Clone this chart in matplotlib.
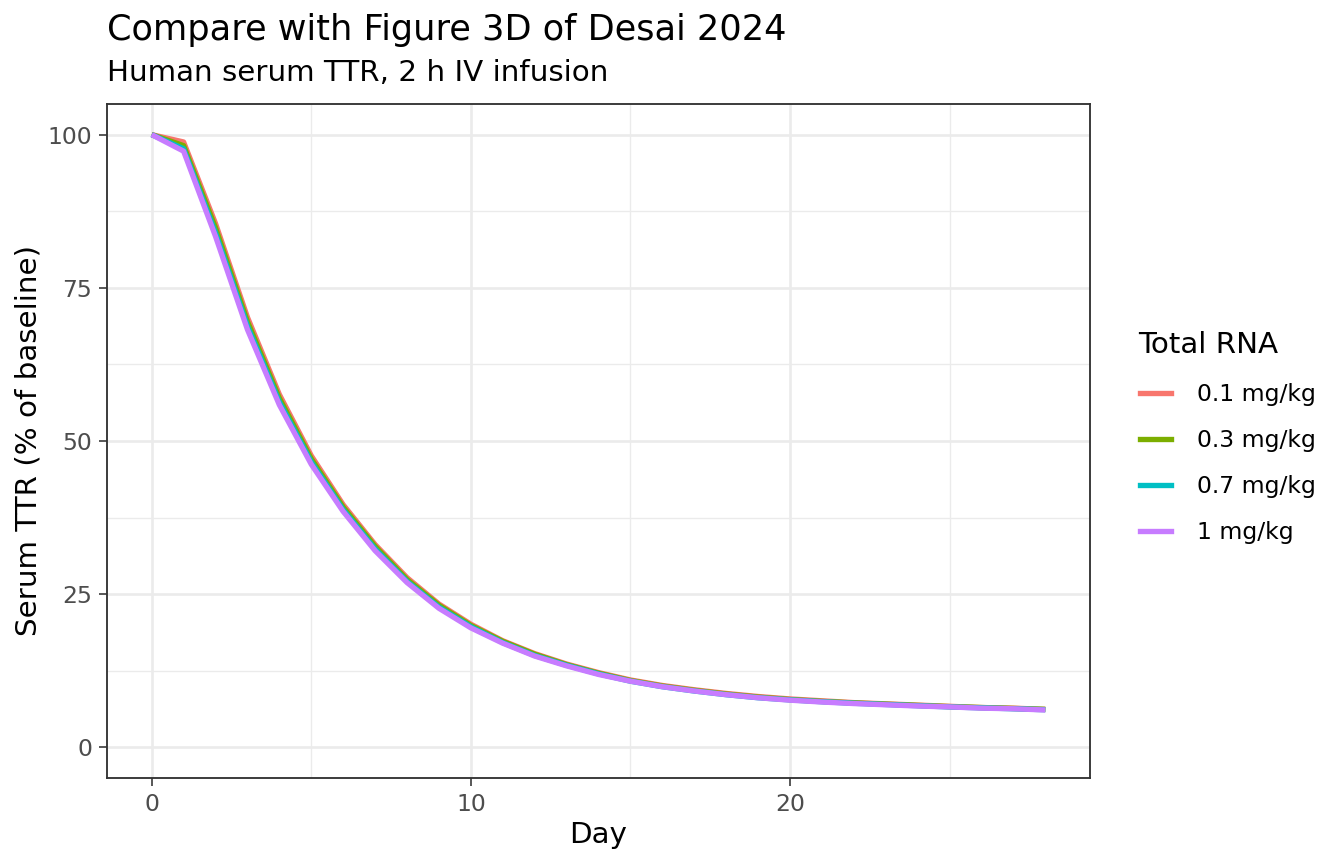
import matplotlib
matplotlib.use("Agg")
import matplotlib.pyplot as plt
from matplotlib.ticker import MultipleLocator
from matplotlib.lines import Line2D

days = list(range(0, 29))
doses = ["0.1 mg/kg", "0.3 mg/kg", "0.7 mg/kg", "1 mg/kg"]
colors = ["#F8766D", "#7CAE00", "#00BFC4", "#C77CFF"]

ttr_01 = [100, 98.8, 85.5, 70.2, 57.6, 47.6, 39.6, 33.1, 27.7, 23.4, 20.1, 17.4, 15.3,
          13.6, 12.2, 11.0, 10.1, 9.4, 8.8, 8.3, 7.9, 7.6, 7.3, 7.1, 6.9, 6.7, 6.5, 6.4, 6.2]
ttr_03 = [100, 98.2, 84.8, 69.5, 57.0, 47.1, 39.2, 32.8, 27.4, 23.2, 19.9, 17.3, 15.2,
          13.5, 12.1, 10.9, 10.0, 9.3, 8.7, 8.2, 7.8, 7.5, 7.25, 7.05, 6.85, 6.65, 6.5, 6.35, 6.2]
ttr_07 = [100, 97.7, 84.0, 68.8, 56.4, 46.6, 38.8, 32.4, 27.1, 22.9, 19.7, 17.1, 15.0,
          13.4, 12.0, 10.8, 9.9, 9.2, 8.6, 8.1, 7.75, 7.45, 7.2, 7.0, 6.8, 6.6, 6.45, 6.3, 6.15]
ttr_1 = [100, 97.3, 83.4, 68.2, 55.9, 46.2, 38.5, 32.1, 26.9, 22.7, 19.5, 17.0, 14.9,
         13.3, 11.9, 10.8, 9.9, 9.2, 8.6, 8.1, 7.7, 7.4, 7.15, 6.95, 6.75, 6.6, 6.4, 6.3, 6.1]
series = [ttr_01, ttr_03, ttr_07, ttr_1]

plt.rcParams['font.family'] = ['DejaVu Sans']
fig = plt.figure(figsize=(7, 4.5), dpi=192)
ax = fig.add_axes([107/1344, 1-778/864, (1090-107)/1344, (778-104)/864])

for vals, c in zip(series, colors):
    ax.plot(days, vals, color=c, lw=2.0, solid_capstyle='butt', zorder=3)

ax.set_xlim(-1.4, 29.4)
ax.set_ylim(-5, 105)
ax.xaxis.set_major_locator(MultipleLocator(10))
ax.xaxis.set_minor_locator(MultipleLocator(5))
ax.yaxis.set_major_locator(MultipleLocator(25))
ax.yaxis.set_minor_locator(MultipleLocator(12.5))
ax.grid(which='major', color='#EBEBEB', lw=1.0, zorder=0)
ax.grid(which='minor', color='#EBEBEB', lw=0.5, zorder=0)
ax.set_axisbelow(True)
for s in ax.spines.values():
    s.set_color('#333333')
    s.set_linewidth(0.7)
ax.tick_params(which='major', length=3, width=0.6, color='#333333',
               labelsize=8.8, labelcolor='#4D4D4D', pad=2.5)
ax.tick_params(which='minor', length=0)
ax.set_xlabel("Day", fontsize=11, labelpad=2)
ax.set_ylabel("Serum TTR (% of baseline)", fontsize=11, labelpad=2)

fig.text(107/1344, 1-30/864, "Compare with Figure 3D of Desai 2024", fontsize=13.2,
         ha='left', va='center')
fig.text(107/1344, 1-73/864, "Human serum TTR, 2 h IV infusion", fontsize=11,
         ha='left', va='center')

handles = [Line2D([0], [0], color=c, lw=2.0) for c in colors]
leg = fig.legend(handles, doses, title="Total RNA", loc='upper left',
                 bbox_to_anchor=(1140/1344, 1-331/864), frameon=False,
                 fontsize=8.8, title_fontsize=11, handlelength=1.3,
                 handletextpad=1.15, labelspacing=0.98, borderaxespad=0,
                 borderpad=0)
leg._legend_box.align = "left"
leg._legend_box.sep = 9
leg.get_title().set_x(0)
fig.canvas.draw()
# shift the title left relative to keys
title = leg.get_title()
title.set_position((-5 * 72 / 192, 0))

fig.savefig("out.png", dpi=192)
